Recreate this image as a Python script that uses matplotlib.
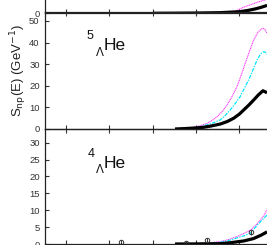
import matplotlib
matplotlib.use("Agg")
import matplotlib.pyplot as plt
from matplotlib import font_manager

# ---------------- data ----------------
# energy axis (arbitrary units, ticks every 20)
x_ticks = [20, 40, 60, 80, 100, 120]

# top panel (only its bottom strip is visible)
top_black_E = [60.1, 70.0, 80.4, 91.1, 100.3, 104.0, 107.2, 110.0, 112.8]
top_black_S = [0.0, 0.05, 0.15, 0.35, 0.9, 1.6, 2.4, 3.3, 4.4]
top_mag_E = [96.0, 98.0, 100.0, 101.7, 104.9, 108.2, 111.8, 113.5]
top_mag_S = [0.6, 1.2, 2.2, 3.3, 4.6, 6.1, 7.4, 8.3]

# middle panel: 5-Lambda-He
mid_E_black = [70.3, 75.0, 80.0, 83.5, 87.0, 91.2, 94.5, 97.4, 100.0, 102.0, 104.5, 106.6, 108.8, 110.9, 112.8]
mid_S_black = [0.0, 0.2, 0.5, 0.8, 1.4, 2.3, 3.5, 5.0, 6.9, 8.8, 11.2, 13.4, 15.8, 17.7, 16.8]
mid_E_mag = [70.3, 75.0, 78.9, 82.0, 85.1, 87.5, 89.7, 92.0, 94.3, 96.6, 98.9, 100.8, 102.7, 104.7, 106.6, 108.6, 110.0, 110.9, 111.8, 112.8]
mid_S_mag = [0.0, 0.3, 0.8, 1.5, 2.6, 4.0, 5.7, 8.0, 11.1, 15.0, 19.6, 24.8, 30.4, 36.0, 41.2, 44.8, 46.2, 46.6, 46.2, 44.3]
mid_E_cyan = [70.3, 75.0, 78.9, 82.0, 85.1, 88.0, 91.2, 93.5, 95.8, 98.0, 100.4, 102.3, 104.3, 106.2, 108.2, 109.8, 111.2, 112.0, 112.8]
mid_S_cyan = [0.0, 0.2, 0.6, 1.1, 1.9, 2.9, 4.2, 6.3, 8.8, 11.7, 15.0, 18.8, 22.7, 27.2, 32.0, 34.8, 35.8, 35.5, 34.5]

# bottom panel: 4-Lambda-He
bot_E_black = [70.3, 80.0, 91.1, 96.0, 102.0, 106.5, 110.0, 112.8]
bot_S_black = [0.0, 0.03, 0.1, 0.4, 0.9, 1.6, 2.6, 3.6]
bot_E_mag = [70.3, 80.0, 86.0, 91.1, 95.0, 98.9, 102.0, 105.1, 107.5, 109.7, 111.5, 112.8]
bot_S_mag = [0.0, 0.1, 0.35, 0.7, 1.3, 2.2, 3.1, 4.1, 5.5, 7.1, 8.6, 10.1]
bot_E_cyan = [70.3, 80.0, 86.0, 91.1, 95.0, 98.9, 102.0, 105.1, 108.3, 110.5, 112.8]
bot_S_cyan = [0.0, 0.08, 0.25, 0.5, 1.0, 1.8, 2.4, 3.2, 5.6, 7.1, 8.6]
bot_data_E = [45.2, 75.4, 85.2, 105.2]
bot_data_S = [0.6, 0.4, 1.2, 3.5]
bot_data_err = [0.6, 0.5, 0.6, 0.7]

mid_yticks = [0, 10, 20, 30, 40, 50]
bot_yticks = [0, 5, 10, 15, 20, 25, 30]
top_yticks = [0]

# ---------------- styling ----------------
W, H = 267, 245
fig = plt.figure(figsize=(W / 100, H / 100), dpi=100)

names = {f.name for f in font_manager.fontManager.ttflist}
tick_family = ['Liberation Sans Narrow'] if 'Liberation Sans Narrow' in names else ['Liberation Sans']
text_family = ['Liberation Sans', 'DejaVu Sans']

def px_axes(left_px, top_px, bottom_px, right_px):
    return fig.add_axes([left_px / W, (H - bottom_px) / H,
                         (right_px - left_px) / W, (bottom_px - top_px) / H])

xmin, xmax = 10, 120
px_per_E = 2.165
left_px = 44.5
right_px = left_px + (xmax - xmin) * px_per_E

ax_top = px_axes(left_px, 13.3 - 108, 13.3, right_px)
ax_mid = px_axes(left_px, 129 - 54 * 2.16, 129, right_px)
ax_bot = px_axes(left_px, 129, 244, right_px)

BLACK_LW = 2.3
for ax in (ax_top, ax_mid, ax_bot):
    ax.set_xlim(xmin, xmax)
    ax.set_xticks(x_ticks)
    ax.tick_params(axis='x', which='both', direction='in', top=True, bottom=True,
                   labelbottom=False, length=3, width=0.8, color='#333333')
    ax.tick_params(axis='y', direction='in', left=True, right=False, length=2.8,
                   width=0.8, pad=3.5, labelsize=6.8, labelcolor='#333333', color='#333333')
    for s in ax.spines.values():
        s.set_linewidth(0.9)
        s.set_color('#222222')
    ax.patch.set_alpha(0)

ax_top.set_ylim(0, 60)
ax_top.set_yticks(top_yticks)
ax_top.plot(top_mag_E, top_mag_S, color='#ff33ff', lw=0.8, ls=(0, (1, 0.6)))
ax_top.plot(top_black_E, top_black_S, color='black', lw=BLACK_LW, solid_capstyle='butt')

ax_mid.set_ylim(0, 54)
ax_mid.set_yticks(mid_yticks)
ax_mid.plot(mid_E_mag, mid_S_mag, color='#ff33ff', lw=0.8, ls=(0, (1, 0.6)))
ax_mid.plot(mid_E_cyan, mid_S_cyan, color='#00e5ff', lw=0.9, ls=(0, (3, 1, 1, 1)))
ax_mid.plot(mid_E_black, mid_S_black, color='black', lw=BLACK_LW, solid_capstyle='butt')

ax_bot.set_ylim(0, 115 / 3.377)
ax_bot.set_yticks(bot_yticks)
ax_bot.plot(bot_E_mag, bot_S_mag, color='#ff33ff', lw=0.8, ls=(0, (1, 0.6)))
ax_bot.plot(bot_E_cyan, bot_S_cyan, color='#00e5ff', lw=0.9, ls=(0, (3, 1, 1, 1)))
ax_bot.plot(bot_E_black, bot_S_black, color='black', lw=BLACK_LW, solid_capstyle='butt')
ax_bot.errorbar(bot_data_E, bot_data_S, yerr=bot_data_err, fmt='o', ms=3.2,
                mfc='none', mec='#333333', mew=0.7, ecolor='#333333', elinewidth=0.7,
                capsize=0, clip_on=False)

for ax in (ax_top, ax_mid, ax_bot):
    for lab in ax.get_yticklabels():
        lab.set_family(tick_family)

def ftext(xp, yp, s, size, ha='left', va='baseline'):
    fig.text(xp / W, 1 - yp / H, s, fontsize=size, ha=ha, va=va,
             family=text_family, color='#111111')

# nucleus labels
ftext(87, 39, '5', 9)
ftext(95.5, 56, '\u039b', 8.5)
ftext(104, 50.5, 'He', 12.5)
ftext(87.5, 157, '4', 9)
ftext(95.5, 173, '\u039b', 8.5)
ftext(104, 167.5, 'He', 12.5)

# y label
fig.text(19 / W, 1 - 70 / H, r'S$_{\mathrm{np}}$(E) (GeV$^{-1}$)', rotation=90,
         ha='center', va='center', fontsize=9.5, family=text_family, color='#222222')

fig.savefig('out.png', dpi=100)
